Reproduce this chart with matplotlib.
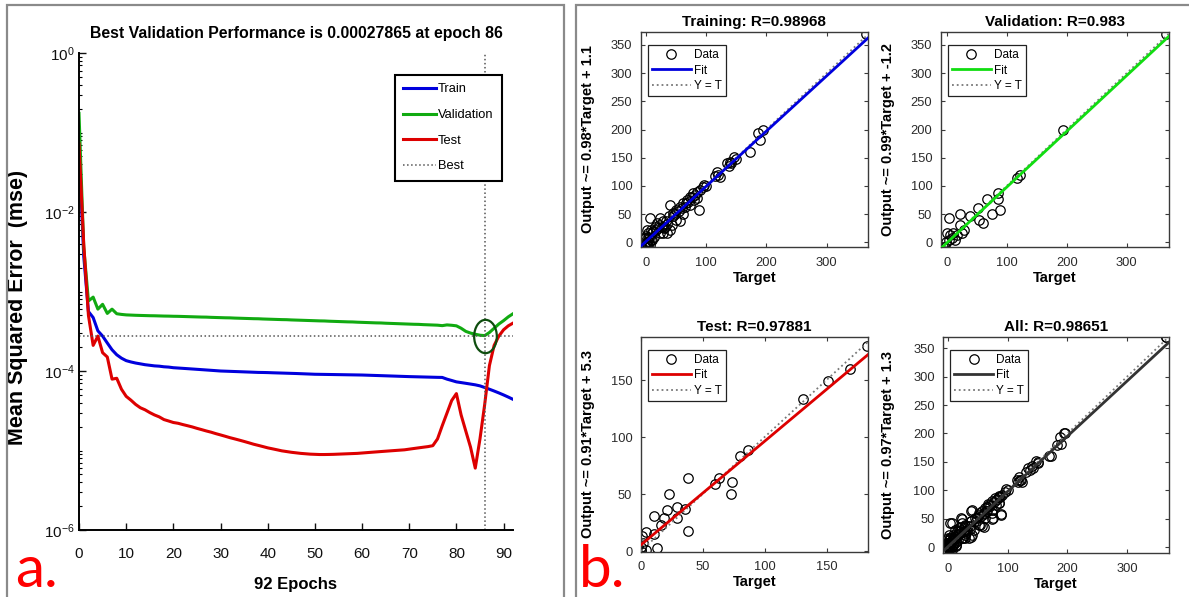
import numpy as np
import matplotlib
matplotlib.use('Agg')
import matplotlib.pyplot as plt
from matplotlib import font_manager
from matplotlib.patches import Rectangle
from matplotlib.path import Path
from matplotlib.transforms import Affine2D
from matplotlib.ticker import LogLocator, NullFormatter

W, H = 1189, 597

_installed = {f.name for f in font_manager.fontManager.ttflist}
NARROW = ['Liberation Sans Narrow', 'Liberation Sans', 'DejaVu Sans']
SANS = ['Liberation Sans', 'DejaVu Sans']
HAS_NARROW = 'Liberation Sans Narrow' in _installed
NS = 1.2 if HAS_NARROW else 1.0   # narrow face can run larger in the same width

plt.rcParams['font.family'] = NARROW
plt.rcParams['mathtext.default'] = 'regular'

# ---- training record (mse per epoch) ----
EPOCHS = list(range(93))
TRAIN_MSE = [6.3e-2, 2.8e-3, 5.6e-4, 4.7e-4, 3.2e-4, 2.75e-4, 2.25e-4, 1.85e-4, 1.6e-4, 1.45e-4,
             1.35e-4, 1.3e-4, 1.26e-4, 1.23e-4, 1.2e-4, 1.18e-4, 1.16e-4, 1.15e-4, 1.13e-4, 1.12e-4,
             1.10e-4, 1.09e-4, 1.08e-4, 1.07e-4, 1.06e-4, 1.05e-4, 1.04e-4, 1.03e-4, 1.02e-4, 1.01e-4,
             1.00e-4, 9.95e-5, 9.9e-5, 9.85e-5, 9.8e-5, 9.75e-5, 9.7e-5, 9.65e-5, 9.6e-5, 9.58e-5,
             9.55e-5, 9.5e-5, 9.46e-5, 9.42e-5, 9.38e-5, 9.34e-5, 9.3e-5, 9.25e-5, 9.2e-5, 9.15e-5,
             9.1e-5, 9.08e-5, 9.06e-5, 9.04e-5, 9.02e-5, 9.0e-5, 8.98e-5, 8.96e-5, 8.94e-5, 8.92e-5,
             8.9e-5, 8.86e-5, 8.82e-5, 8.78e-5, 8.74e-5, 8.7e-5, 8.66e-5, 8.62e-5, 8.58e-5, 8.54e-5,
             8.5e-5, 8.47e-5, 8.44e-5, 8.41e-5, 8.38e-5, 8.35e-5, 8.32e-5, 8.3e-5, 7.9e-5, 7.6e-5,
             7.3e-5, 7.15e-5, 7.0e-5, 6.85e-5, 6.7e-5, 6.5e-5, 6.2e-5, 5.9e-5, 5.6e-5, 5.3e-5,
             5.0e-5, 4.7e-5, 4.4e-5]
VAL_MSE = [0.174, 3.6e-3, 7.6e-4, 8.5e-4, 6.0e-4, 6.9e-4, 5.3e-4, 6.0e-4, 5.25e-4, 5.15e-4,
           5.08e-4, 5.05e-4, 5.02e-4, 5.0e-4, 4.98e-4, 4.96e-4, 4.95e-4, 4.93e-4, 4.91e-4, 4.9e-4,
           4.88e-4, 4.87e-4, 4.85e-4, 4.83e-4, 4.81e-4, 4.79e-4, 4.77e-4, 4.76e-4, 4.73e-4, 4.71e-4,
           4.69e-4, 4.67e-4, 4.66e-4, 4.63e-4, 4.61e-4, 4.59e-4, 4.57e-4, 4.55e-4, 4.54e-4, 4.51e-4,
           4.49e-4, 4.47e-4, 4.45e-4, 4.43e-4, 4.42e-4, 4.39e-4, 4.37e-4, 4.35e-4, 4.33e-4, 4.31e-4,
           4.29e-4, 4.27e-4, 4.26e-4, 4.23e-4, 4.21e-4, 4.19e-4, 4.17e-4, 4.15e-4, 4.14e-4, 4.11e-4,
           4.09e-4, 4.07e-4, 4.05e-4, 4.03e-4, 4.02e-4, 3.99e-4, 3.97e-4, 3.95e-4, 3.93e-4, 3.91e-4,
           3.89e-4, 3.87e-4, 3.86e-4, 3.83e-4, 3.81e-4, 3.79e-4, 3.77e-4, 3.72e-4, 3.80e-4, 3.76e-4,
           3.7e-4, 3.45e-4, 3.15e-4, 3.0e-4, 2.9e-4, 2.82e-4, 2.7865e-4, 3.05e-4, 3.45e-4, 3.9e-4,
           4.3e-4, 4.8e-4, 5.25e-4]
TEST_MSE = [7.2e-2, 4.0e-3, 5.0e-4, 2.1e-4, 2.75e-4, 1.7e-4, 1.5e-4, 7.9e-5, 8.1e-5, 5.9e-5,
            4.8e-5, 4.3e-5, 3.8e-5, 3.45e-5, 3.25e-5, 3.0e-5, 2.8e-5, 2.65e-5, 2.45e-5, 2.35e-5,
            2.25e-5, 2.2e-5, 2.12e-5, 2.05e-5, 1.98e-5, 1.9e-5, 1.83e-5, 1.76e-5, 1.7e-5, 1.63e-5,
            1.57e-5, 1.51e-5, 1.45e-5, 1.4e-5, 1.35e-5, 1.3e-5, 1.25e-5, 1.2e-5, 1.16e-5, 1.12e-5,
            1.08e-5, 1.05e-5, 1.02e-5, 9.9e-6, 9.7e-6, 9.5e-6, 9.35e-6, 9.2e-6, 9.1e-6, 9.0e-6,
            8.95e-6, 8.9e-6, 8.9e-6, 8.92e-6, 8.95e-6, 9.0e-6, 9.05e-6, 9.1e-6, 9.15e-6, 9.2e-6,
            9.3e-6, 9.4e-6, 9.5e-6, 9.6e-6, 9.7e-6, 9.8e-6, 9.9e-6, 1.0e-5, 1.01e-5, 1.02e-5,
            1.04e-5, 1.06e-5, 1.08e-5, 1.1e-5, 1.12e-5, 1.15e-5, 1.4e-5, 2.05e-5, 2.95e-5, 4.25e-5,
            5.2e-5, 2.8e-5, 1.75e-5, 1.1e-5, 6.0e-6, 1.4e-5, 3.8e-5, 1.17e-4, 2.1e-4, 2.75e-4,
            3.3e-4, 3.7e-4, 4.0e-4]
BEST_EPOCH = 86
BEST_PERF = 0.00027865

# ---- regression data (target, output) ----
TRAIN_T = [365, 195, 187, 189, 173, 147, 142, 134, 120, 119, 123, 97, 85, 79, 73, 89, 85, 68, 62, 57,
           62, 57, 51, 40, 38, 40, 32, 29, 24, 18, 17, 7, 2, 4, 2, 7, -1, 10, 13, 24,
           35, 46, 49, 27, 36, 15, -1, 4, 8, 10, 29, 51, 65, 73, 80, 43, 3, 5, 1, 6,
           2, 9, 0, 3, 12, 20, 22, 30, 34, 45, 55, 60, 66, 70, 77, 82, 90, 100, 115, 138,
           140, 150, 95]
TRAIN_O = [370, 200, 193, 181, 161, 151, 140, 140, 119, 124, 115, 102, 90, 87, 81, 57, 78, 75, 69, 63,
           51, 37, 40, 66, 46, 22, 28, 37, 43, 34, 22, 43, 22, 10, 1, -5, -8, 16, 10, 16,
           16, 46, 51, 28, 33, 28, 7, 16, 22, 5, 16, 57, 63, 66, 75, 31, 3, 8, 12, 0,
           -4, 4, -2, -7, 20, 25, 30, 25, 38, 52, 55, 60, 70, 72, 80, 84, 92, 100, 118, 135,
           143, 148, 98]
VAL_T = [365, 194, 117, 122, 85, 86, 67, 89, 75, 52, 54, 61, 39, 22, 22, 28, 25, 4, 0, 3,
         8, 14, -3, -1, 6, 17, 11]
VAL_O = [370, 200, 114, 119, 88, 77, 76, 58, 51, 60, 40, 35, 47, 51, 31, 22, 16, 43, 16, 4,
         7, 4, -8, 1, 13, 13, 16]
TEST_T = [183, 169, 151, 131, 87, 80, 63, 60, 74, 73, 38, 38, 36, 29, 29, 23, 21, 19, 11, 16,
          11, 13, 4, 1, 0.5, 0.5, 4, 0, 2]
TEST_O = [180, 160, 149, 133, 89, 83, 64, 59, 61, 50, 64, 18, 37, 39, 29, 50, 36, 29, 31, 23,
          15, 3, 17, 13, 4, 1, 1, 0, 7]
ALL_T = TRAIN_T + VAL_T + TEST_T
ALL_O = TRAIN_O + VAL_O + TEST_O

TRAIN_FIT = (0.98, 1.1, 0.98968)
VAL_FIT = (0.99, -1.2, 0.983)
TEST_FIT = (0.91, 5.3, 0.97881)
ALL_FIT = (0.97, 1.3, 0.98651)


def px_box(l, t, r, b):
    return [l / W, 1 - b / H, (r - l) / W, (b - t) / H]


fig = plt.figure(figsize=(W / 100, H / 100), dpi=100)
fig.patch.set_facecolor('white')

# panel frames
fig.add_artist(Rectangle((7 / W, -0.05), (564 - 7) / W, 1 - 5 / H + 0.05,
                         transform=fig.transFigure, fill=False, ec='#8a8a8a', lw=1.6))
fig.add_artist(Rectangle((576 / W, -0.05), 0.6, 1 - 5 / H + 0.05,
                         transform=fig.transFigure, fill=False, ec='#8a8a8a', lw=1.6))

# ---- (a) performance plot ----
ax = fig.add_axes(px_box(79, 53, 513, 530))
ax.semilogy(EPOCHS, TRAIN_MSE, color='#0000dd', lw=2.2, label='Train')
ax.semilogy(EPOCHS, VAL_MSE, color='#11aa11', lw=2.2, label='Validation')
ax.semilogy(EPOCHS, TEST_MSE, color='#dd0000', lw=2.2, label='Test')
ax.axvline(BEST_EPOCH, color='#555555', ls=':', lw=1.1, label='Best')
ax.axhline(BEST_PERF, color='#555555', ls=':', lw=1.1)
oval = Path.unit_circle().transformed(Affine2D().scale(0.68, 1.0))
ax.plot([BEST_EPOCH], [BEST_PERF], ls='none', marker=oval, ms=24,
        mfc='none', mec='#0e4d0e', mew=1.6)

ax.set_xlim(0, 92)
ax.set_ylim(1e-6, 1)
for s in ('top', 'right'):
    ax.spines[s].set_visible(False)
for s in ('left', 'bottom'):
    ax.spines[s].set_linewidth(1.4)
ax.set_xticks(range(0, 91, 10))
ax.set_yticks([1e-6, 1e-4, 1e-2, 1])
ax.set_yticklabels([r'$10^{-6}$', r'$10^{-4}$', r'$10^{-2}$', r'$10^{0}$'])
ax.yaxis.set_minor_locator(LogLocator(base=10, subs=np.arange(1, 10), numticks=30))
ax.yaxis.set_minor_formatter(NullFormatter())
ax.tick_params(axis='both', direction='in', length=5, width=1, labelsize=11 * NS, colors='#111111')
ax.tick_params(axis='x', pad=12)
ax.tick_params(axis='y', pad=3)
ax.tick_params(which='minor', direction='in', length=2.5, width=0.8)

ax.set_title('Best Validation Performance is 0.00027865 at epoch 86',
             fontsize=11.4 * NS, fontweight='bold', pad=11)
ax.set_xlabel('92 Epochs', fontsize=12 * NS, fontweight='bold')
ax.xaxis.set_label_coords(0.5, -0.098)
ax.set_ylabel('Mean Squared Error  (mse)', fontsize=15.5, fontweight='bold', family=SANS)
ax.yaxis.set_label_coords(-0.118, 0.4675)

leg = ax.legend(loc='upper left', bbox_to_anchor=((395 - 79) / 434, 1 - (75 - 53) / 477),
                borderaxespad=0, prop=dict(family=NARROW, size=9.3 * NS), handlelength=2.5,
                handletextpad=0.15, labelspacing=1.05, borderpad=0.65, fancybox=False,
                framealpha=1, edgecolor='black')
leg.get_frame().set_linewidth(1.5)


# ---- (b) regression plots ----
def regression(box, name, target, output, fit, color, xlim, ylim, ticks, ylab_x):
    slope, icpt, r = fit
    a = fig.add_axes(px_box(*box))
    a.plot(target, output, ls='none', marker='o', ms=6.8, mfc='none', mec='black',
           mew=0.9, label='Data', zorder=2)
    lo, hi = xlim
    a.plot([lo, hi], [slope * lo + icpt, slope * hi + icpt], color=color, lw=2,
           label='Fit', zorder=4)
    a.plot([lo, hi], [lo, hi], ls=':', color='#777777', lw=1.3, label='Y = T', zorder=3)
    a.set_xlim(xlim)
    a.set_ylim(ylim)
    a.set_xticks(ticks[0])
    a.set_yticks(ticks[1])
    for s in a.spines.values():
        s.set_color('#3a3a3a')
        s.set_linewidth(1.0)
    a.tick_params(direction='in', length=3, width=0.8, top=True, right=True,
                  labelsize=9.3, labelcolor='#2a2a2a', color='#3a3a3a', pad=6)
    a.tick_params(axis='x', pad=7)
    for lab in a.get_xticklabels() + a.get_yticklabels():
        lab.set_family(SANS)
    a.set_title(f'{name}: R={r}', fontsize=11, fontweight='bold', family=SANS, pad=4)
    a.set_xlabel('Target', fontsize=10.5, fontweight='bold', family=SANS)
    a.xaxis.set_label_coords(0.5, -0.11)
    a.set_ylabel(f'Output ~= {slope}*Target + {icpt}', fontsize=10.5, fontweight='bold',
                 family=SANS)
    a.yaxis.set_label_coords(ylab_x, 0.5)
    lg = a.legend(loc='upper left', bbox_to_anchor=(0.031, 0.94), borderaxespad=0,
                  prop=dict(family=SANS, size=8.5), handlelength=3.3, handletextpad=0.25,
                  labelspacing=0.3, borderpad=0.35, numpoints=1, fancybox=False,
                  framealpha=1, edgecolor='#222222')
    lg.get_frame().set_linewidth(0.9)
    return a


big_ticks = ([0, 100, 200, 300], list(range(0, 351, 50)))
regression((640.7, 32, 868, 247), 'Training', TRAIN_T, TRAIN_O, TRAIN_FIT, '#0000dd',
           (-8.3, 368.6), (-8.3, 373), big_ticks, -0.2)
regression((940.7, 32, 1169, 247), 'Validation', VAL_T, VAL_O, VAL_FIT, '#11dd11',
           (-10, 370.5), (-8.3, 373), big_ticks, -0.2)
regression((640.7, 336.7, 868, 551.7), 'Test', TEST_T, TEST_O, TEST_FIT, '#dd0000',
           (0, 183.5), (-0.5, 188), ([0, 50, 100, 150], [0, 50, 100, 150]), -0.2)
regression((943.3, 336.7, 1169, 553), 'All', ALL_T, ALL_O, ALL_FIT, '#333333',
           (-8, 370), (-10, 370), big_ticks, -0.214)

# panel letters
fig.text(15 / W, 0.0, 'a.', color='#ff0000', fontsize=42, family=['Lato', 'DejaVu Sans'],
         va='bottom', ha='left')
fig.text(579 / W, 0.0, 'b.', color='#ff0000', fontsize=42, family=['Lato', 'DejaVu Sans'],
         va='bottom', ha='left')

fig.savefig('out.png', dpi=100)
